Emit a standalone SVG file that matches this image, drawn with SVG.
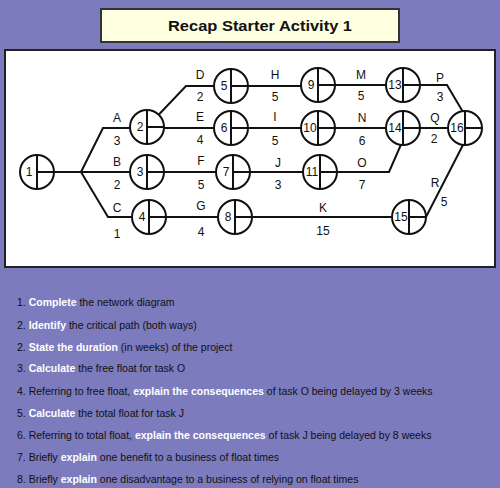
<svg xmlns="http://www.w3.org/2000/svg" width="500" height="488" viewBox="0 0 500 488">
<style>
.bg{fill:#7b7bbd}
.panel{fill:#fff;stroke:#222;stroke-width:2}
.title{fill:#ffffe2;stroke:#333;stroke-width:2}
.ttl{font-family:"Liberation Sans",Arial,sans-serif;font-size:15px;font-weight:bold;fill:#111;text-anchor:middle}
.e{fill:none;stroke:#111;stroke-width:2;stroke-linejoin:miter}
.nc{fill:#fff;stroke:#111;stroke-width:2}
.nx{fill:none;stroke:#111;stroke-width:2}
.num{font-family:"Liberation Sans",Arial,sans-serif;font-size:12px;fill:#111;text-anchor:middle}
.lbl{font-family:"Liberation Sans",Arial,sans-serif;font-size:12px;fill:#111;text-anchor:middle}
.q{font-family:"Liberation Sans",Arial,sans-serif;font-size:10.5px;fill:#111}
.hi{fill:#fff;font-weight:bold}
</style>
<defs>
<g id="node"><circle class="nc" cx="0" cy="0" r="17"/><path class="nx" d="M0,-17V17M0,0H17"/></g>
</defs>
<rect class="bg" x="0" y="0" width="500" height="488"/>
<rect class="title" x="101" y="9" width="298" height="33"/>
<text class="ttl" x="260" y="31" textLength="184" lengthAdjust="spacingAndGlyphs">Recap Starter Activity 1</text>
<rect class="panel" x="5" y="50" width="490" height="217"/>

<g id="connectors">
<path class="e" d="M37,172H81"/>
<path class="e" d="M81,172L103,128H147"/>
<path class="e" d="M81,172H147"/>
<path class="e" d="M81,172L108,217H149"/>
<path class="e" d="M147,127L186,86H231"/>
<path class="e" d="M147,128H231"/>
<path class="e" d="M147,172H233"/>
<path class="e" d="M149,217H235"/>
<path class="e" d="M231,86H318"/>
<path class="e" d="M231,128H318"/>
<path class="e" d="M233,172H320"/>
<path class="e" d="M235,217H409"/>
<path class="e" d="M318,85H403"/>
<path class="e" d="M318,128H403"/>
<path class="e" d="M320,172H389L403,140"/>
<path class="e" d="M403,85H447L463,112"/>
<path class="e" d="M403,128H465"/>
<path class="e" d="M409,217L426,217L464,143"/>
<g class="lbl">
<text x="117" y="122">A</text><text x="117" y="145">3</text>
<text x="117" y="166">B</text><text x="117" y="189">2</text>
<text x="117" y="212">C</text><text x="117" y="238">1</text>
<text x="200" y="79">D</text><text x="200" y="101">2</text>
<text x="200" y="121">E</text><text x="200" y="144">4</text>
<text x="201" y="165">F</text><text x="201" y="189">5</text>
<text x="201" y="210">G</text><text x="201" y="236">4</text>
<text x="275" y="79">H</text><text x="275" y="101">5</text>
<text x="275" y="121">I</text><text x="275" y="145">5</text>
<text x="278" y="167">J</text><text x="278" y="189">3</text>
<text x="323" y="212">K</text><text x="323" y="235">15</text>
<text x="361" y="79">M</text><text x="361" y="100">5</text>
<text x="362" y="122">N</text><text x="362" y="145">6</text>
<text x="362" y="167">O</text><text x="362" y="189">7</text>
<text x="440" y="82">P</text><text x="440" y="101">3</text>
<text x="435" y="122">Q</text><text x="434" y="143">2</text>
<text x="435" y="187">R</text><text x="444" y="206">5</text>
</g>
</g>

<g id="n1"><use href="#node" x="37" y="172"/><text class="num" x="29" y="176">1</text></g>
<g id="n2"><use href="#node" x="147" y="127"/><text class="num" x="140" y="131">2</text></g>
<g id="n3"><use href="#node" x="147" y="172"/><text class="num" x="140" y="176">3</text></g>
<g id="n4"><use href="#node" x="149" y="217"/><text class="num" x="142" y="221">4</text></g>
<g id="n5"><use href="#node" x="231" y="86"/><text class="num" x="224" y="90">5</text></g>
<g id="n6"><use href="#node" x="231" y="128"/><text class="num" x="224" y="132">6</text></g>
<g id="n7"><use href="#node" x="233" y="172"/><text class="num" x="226" y="176">7</text></g>
<g id="n8"><use href="#node" x="235" y="217"/><text class="num" x="228" y="221">8</text></g>
<g id="n9"><use href="#node" x="318" y="85"/><text class="num" x="311" y="89">9</text></g>
<g id="n10"><use href="#node" x="318" y="128"/><text class="num" x="310" y="132" font-size="10">10</text></g>
<g id="n11"><use href="#node" x="320" y="172"/><text class="num" x="312" y="176" font-size="10">11</text></g>
<g id="n13"><use href="#node" x="403" y="85"/><text class="num" x="395" y="89" font-size="10">13</text></g>
<g id="n14"><use href="#node" x="403" y="128"/><text class="num" x="395" y="132" font-size="10">14</text></g>
<g id="n15"><use href="#node" x="409" y="217"/><text class="num" x="401" y="221" font-size="10">15</text></g>
<g id="n16"><use href="#node" x="465" y="128"/><text class="num" x="457" y="132" font-size="10">16</text></g>

<g id="questions" class="q">
<text x="17" y="306">1. <tspan class="hi">Complete</tspan> the network diagram</text>
<text x="17" y="329">2. <tspan class="hi">Identify</tspan> the critical path (both ways)</text>
<text x="17" y="351">2. <tspan class="hi">State the duration</tspan> (in weeks) of the project</text>
<text x="17" y="372">3. <tspan class="hi">Calculate</tspan> the free float for task O</text>
<text x="17" y="395">4. Referring to free float, <tspan class="hi">explain the consequences</tspan> of task O being delayed by 3 weeks</text>
<text x="17" y="417">5. <tspan class="hi">Calculate</tspan> the total float for task J</text>
<text x="17" y="439">6. Referring to total float, <tspan class="hi">explain the consequences</tspan> of task J being delayed by 8 weeks</text>
<text x="17" y="461">7. Briefly <tspan class="hi">explain</tspan> one benefit to a business of float times</text>
<text x="17" y="483">8. Briefly <tspan class="hi">explain</tspan> one disadvantage to a business of relying on float times</text>
</g>
</svg>
